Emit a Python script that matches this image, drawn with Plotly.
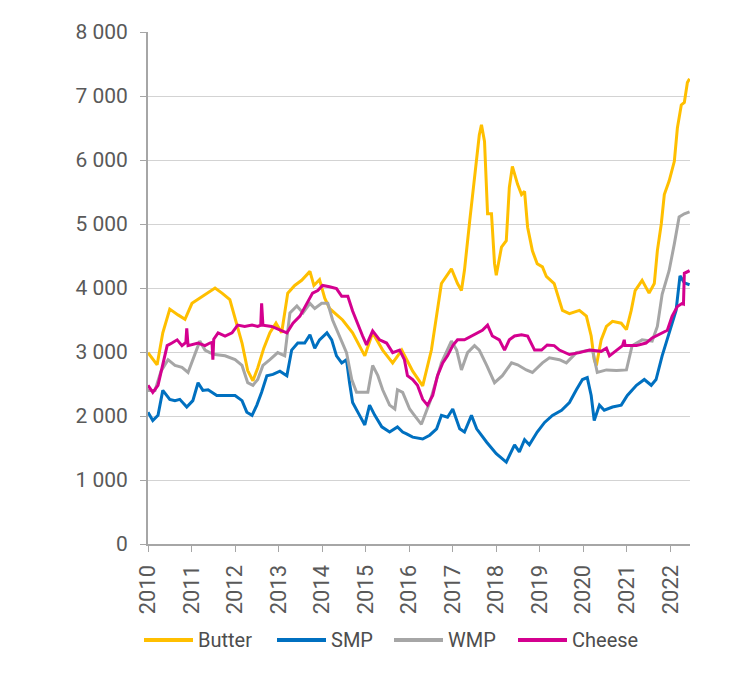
import plotly.graph_objects as go

# ---- data (decimal year, EUR/t) ----
butter_t = [2010.00, 2010.21, 2010.34, 2010.50, 2010.69, 2010.85, 2011.01, 2011.19, 2011.35, 2011.54,
            2011.70, 2011.88, 2012.02, 2012.16, 2012.29, 2012.41, 2012.52, 2012.66, 2012.80, 2012.94,
            2013.07, 2013.21, 2013.37, 2013.53, 2013.72, 2013.81, 2013.94, 2014.06, 2014.17, 2014.47,
            2014.70, 2014.98, 2015.16, 2015.39, 2015.62, 2015.83, 2016.08, 2016.31, 2016.51, 2016.63,
            2016.74, 2016.97, 2017.11, 2017.20, 2017.27, 2017.39, 2017.50, 2017.61, 2017.66, 2017.73,
            2017.80, 2017.89, 2017.96, 2018.00, 2018.12, 2018.23, 2018.30, 2018.37, 2018.49, 2018.58,
            2018.65, 2018.72, 2018.83, 2018.94, 2019.06, 2019.15, 2019.33, 2019.52, 2019.68, 2019.91,
            2020.07, 2020.18, 2020.25, 2020.30, 2020.41, 2020.53, 2020.67, 2020.87, 2020.99, 2021.10,
            2021.19, 2021.35, 2021.51, 2021.63, 2021.70, 2021.79, 2021.86, 2021.97, 2022.09, 2022.16,
            2022.25, 2022.32, 2022.39, 2022.44]
butter_v = [2990, 2800, 3300, 3670, 3580, 3510, 3760, 3840, 3920, 4000,
            3920, 3820, 3480, 3140, 2710, 2550, 2750, 3060, 3300, 3450,
            3300, 3920, 4040, 4120, 4260, 4040, 4130, 3840, 3680, 3500,
            3300, 2940, 3300, 3030, 2830, 3030, 2700, 2470, 3030, 3560,
            4070, 4300, 4070, 3960, 4280, 5050, 5720, 6390, 6550, 6290,
            5160, 5160, 4380, 4200, 4640, 4740, 5570, 5900, 5620, 5460,
            5510, 4950, 4580, 4380, 4330, 4180, 4070, 3650, 3600, 3650,
            3560, 3250, 2880, 2790, 3190, 3400, 3480, 3450, 3350, 3650,
            3960, 4120, 3920, 4070, 4580, 5000, 5460, 5670, 5980, 6500,
            6860, 6900, 7210, 7270]

smp_t = [2010.00, 2010.11, 2010.23, 2010.34, 2010.50, 2010.62, 2010.73, 2010.89, 2011.03, 2011.15,
         2011.26, 2011.38, 2011.58, 2011.77, 2012.00, 2012.16, 2012.27, 2012.39, 2012.50, 2012.61,
         2012.73, 2012.87, 2013.03, 2013.19, 2013.30, 2013.44, 2013.60, 2013.72, 2013.83, 2013.94,
         2014.11, 2014.22, 2014.33, 2014.45, 2014.56, 2014.63, 2014.70, 2014.86, 2014.98, 2015.09,
         2015.21, 2015.37, 2015.55, 2015.73, 2015.85, 2015.94, 2016.08, 2016.31, 2016.47, 2016.63,
         2016.74, 2016.88, 2017.00, 2017.16, 2017.27, 2017.43, 2017.55, 2017.78, 2018.00, 2018.23,
         2018.42, 2018.53, 2018.65, 2018.76, 2018.94, 2019.11, 2019.29, 2019.50, 2019.68, 2019.84,
         2019.98, 2020.09, 2020.18, 2020.25, 2020.37, 2020.48, 2020.67, 2020.87, 2021.01, 2021.22,
         2021.40, 2021.56, 2021.67, 2021.81, 2021.97, 2022.13, 2022.22, 2022.32, 2022.44]
smp_v = [2060, 1930, 2010, 2400, 2260, 2240, 2260, 2140, 2240, 2520,
         2400, 2410, 2320, 2320, 2320, 2240, 2060, 2010, 2170, 2370,
         2630, 2650, 2700, 2630, 3030, 3140, 3140, 3270, 3060, 3190,
         3300, 3190, 2940, 2830, 2880, 2520, 2210, 2010, 1860, 2170,
         2010, 1830, 1750, 1830, 1750, 1720, 1670, 1640, 1700, 1800,
         2010, 1980, 2110, 1800, 1750, 2010, 1800, 1590, 1410, 1280,
         1550, 1440, 1630, 1550, 1750, 1900, 2010, 2090, 2210, 2410,
         2570, 2600, 2320, 1930, 2170, 2090, 2140, 2170, 2320, 2480,
         2570, 2480, 2570, 2940, 3300, 3650, 4190, 4080, 4050]

wmp_t = [2010.00, 2010.16, 2010.30, 2010.46, 2010.62, 2010.78, 2010.92, 2011.08, 2011.19, 2011.31,
         2011.42, 2011.54, 2011.77, 2012.00, 2012.16, 2012.29, 2012.41, 2012.52, 2012.64, 2012.80,
         2012.98, 2013.14, 2013.26, 2013.42, 2013.56, 2013.72, 2013.83, 2013.99, 2014.13, 2014.24,
         2014.40, 2014.56, 2014.68, 2014.79, 2014.93, 2015.05, 2015.16, 2015.28, 2015.39, 2015.55,
         2015.67, 2015.73, 2015.85, 2016.01, 2016.12, 2016.28, 2016.47, 2016.74, 2016.97, 2017.09,
         2017.20, 2017.34, 2017.50, 2017.61, 2017.78, 2017.96, 2018.14, 2018.35, 2018.49, 2018.69,
         2018.83, 2019.06, 2019.22, 2019.45, 2019.61, 2019.84, 2020.07, 2020.21, 2020.32, 2020.53,
         2020.76, 2020.99, 2021.12, 2021.35, 2021.58, 2021.70, 2021.81, 2021.97, 2022.09, 2022.20,
         2022.32, 2022.44]
wmp_v = [2400, 2400, 2700, 2880, 2790, 2760, 2680, 2990, 3170, 3030,
         2990, 2960, 2940, 2880, 2790, 2520, 2480, 2570, 2790, 2880,
         2990, 2940, 3610, 3720, 3610, 3760, 3680, 3760, 3760, 3500,
         3250, 2990, 2570, 2370, 2370, 2370, 2790, 2630, 2410, 2170,
         2110, 2410, 2370, 2110, 2010, 1870, 2210, 2830, 3170, 3030,
         2720, 2990, 3100, 3030, 2790, 2520, 2630, 2830, 2800, 2720,
         2680, 2830, 2910, 2880, 2830, 2990, 3020, 3030, 2680, 2720,
         2710, 2720, 3100, 3190, 3170, 3400, 3900, 4270, 4690, 5110,
         5160, 5190]

cheese_t = [2010.00, 2010.11, 2010.23, 2010.34, 2010.44, 2010.55, 2010.67, 2010.78, 2010.87, 2010.89,
            2010.92, 2011.15, 2011.31, 2011.42, 2011.47, 2011.49, 2011.51, 2011.61, 2011.77, 2011.93,
            2012.06, 2012.22, 2012.39, 2012.52, 2012.59, 2012.61, 2012.64, 2012.84, 2013.03, 2013.19,
            2013.33, 2013.49, 2013.65, 2013.78, 2013.90, 2014.01, 2014.17, 2014.33, 2014.45, 2014.59,
            2014.70, 2014.82, 2014.93, 2015.02, 2015.16, 2015.32, 2015.48, 2015.62, 2015.78, 2015.89,
            2015.96, 2016.08, 2016.19, 2016.31, 2016.42, 2016.54, 2016.65, 2016.77, 2016.88, 2017.00,
            2017.11, 2017.27, 2017.43, 2017.57, 2017.68, 2017.80, 2017.91, 2018.07, 2018.19, 2018.30,
            2018.42, 2018.58, 2018.72, 2018.88, 2019.04, 2019.17, 2019.33, 2019.45, 2019.68, 2019.91,
            2020.14, 2020.41, 2020.53, 2020.60, 2020.76, 2020.90, 2020.94, 2020.96, 2021.22, 2021.44,
            2021.58, 2021.81, 2021.93, 2022.04, 2022.16, 2022.27, 2022.30, 2022.32, 2022.39, 2022.44]
cheese_v = [2480, 2370, 2480, 2830, 3100, 3140, 3190, 3100, 3150, 3370,
            3100, 3140, 3100, 3140, 3150, 2880, 3200, 3300, 3250, 3300,
            3420, 3400, 3420, 3400, 3420, 3760, 3420, 3400, 3340, 3300,
            3450, 3560, 3760, 3920, 3960, 4040, 4020, 3990, 3870, 3870,
            3640, 3420, 3250, 3110, 3330, 3190, 3140, 2990, 3030, 2880,
            2630, 2570, 2480, 2260, 2170, 2320, 2630, 2830, 2940, 3100,
            3190, 3190, 3250, 3300, 3340, 3420, 3250, 3190, 3030, 3190,
            3250, 3270, 3250, 3030, 3030, 3110, 3100, 3030, 2960, 2990,
            3030, 3010, 3060, 2940, 3030, 3100, 3190, 3100, 3100, 3140,
            3220, 3300, 3340, 3560, 3710, 3760, 3750, 4230, 4260, 4270]

series_names = ["Butter", "SMP", "WMP", "Cheese"]
series_colors = ["#FFBF00", "#0070C0", "#A6A6A6", "#D4008F"]
series_t = [butter_t, smp_t, wmp_t, cheese_t]
series_v = [butter_v, smp_v, wmp_v, cheese_v]

year_ticks = list(range(2010, 2023))
y_ticks = [0, 1000, 2000, 3000, 4000, 5000, 6000, 7000, 8000]

# ---- layout geometry (pixels in the page) ----
W, H = 751, 680
PAGE_OFF = 8                        # body margin of the html page
PL, PR, PT, PB = 148, 690, 26, 544  # plot area as seen in the page
ML = PL - PAGE_OFF
MT = PT - PAGE_OFF
MR = W - ML - (PR - PL)
MB = H - MT - (PB - PT)


def px_x(px):
    return (px - PL) / (PR - PL)


def px_y(py):
    return (PB - py) / (PB - PT)


fig = go.Figure()
for name, t, v, col in zip(series_names, series_t, series_v, series_colors):
    fig.add_trace(go.Scatter(x=t, y=v, name=name, mode="lines",
                             line=dict(color=col, width=3), showlegend=False))

# custom legend (longer line samples than plotly's default)
legend_line_x = [144, 277, 394, 518]
legend_y = 641
shapes = []
annotations = []
for name, col, lx in zip(series_names, series_colors, legend_line_x):
    shapes.append(dict(type="line", xref="paper", yref="paper",
                       x0=px_x(lx), x1=px_x(lx + 49), y0=px_y(legend_y), y1=px_y(legend_y),
                       line=dict(color=col, width=4)))
    annotations.append(dict(text=name, xref="paper", yref="paper", x=px_x(lx + 52),
                            y=px_y(legend_y), xanchor="left", yanchor="middle", showarrow=False,
                            font=dict(size=20, color="#4D4D4D")))

txt = "#595959"
fig.update_layout(
    width=W, height=H,
    margin=dict(l=ML, r=MR, t=MT, b=MB),
    paper_bgcolor="white", plot_bgcolor="white",
    font=dict(family="Roboto, Noto Sans, sans-serif", size=21, color=txt),
    separators=". ",
    showlegend=False,
    shapes=shapes,
    annotations=annotations,
    xaxis=dict(range=[2010, 2022.45], tickvals=year_ticks, ticktext=[str(y) for y in year_ticks],
               tickangle=-90, showgrid=False, showline=True, linecolor="#A6A6A6", linewidth=2,
               ticks="outside", ticklen=6, tickcolor="#A6A6A6", tickfont=dict(size=22, color=txt),
               ticklabelstandoff=4, zeroline=False),
    yaxis=dict(range=[0, 8000], tickvals=y_ticks, tickformat=",d", showgrid=True,
               gridcolor="#D3D3D3", gridwidth=1, showline=True, linecolor="#A6A6A6", linewidth=2,
               ticks="outside", ticklen=6, tickcolor="#A6A6A6", tickfont=dict(size=21, color=txt),
               ticklabelstandoff=8, zeroline=False),
)

fig.write_html("out.html")
